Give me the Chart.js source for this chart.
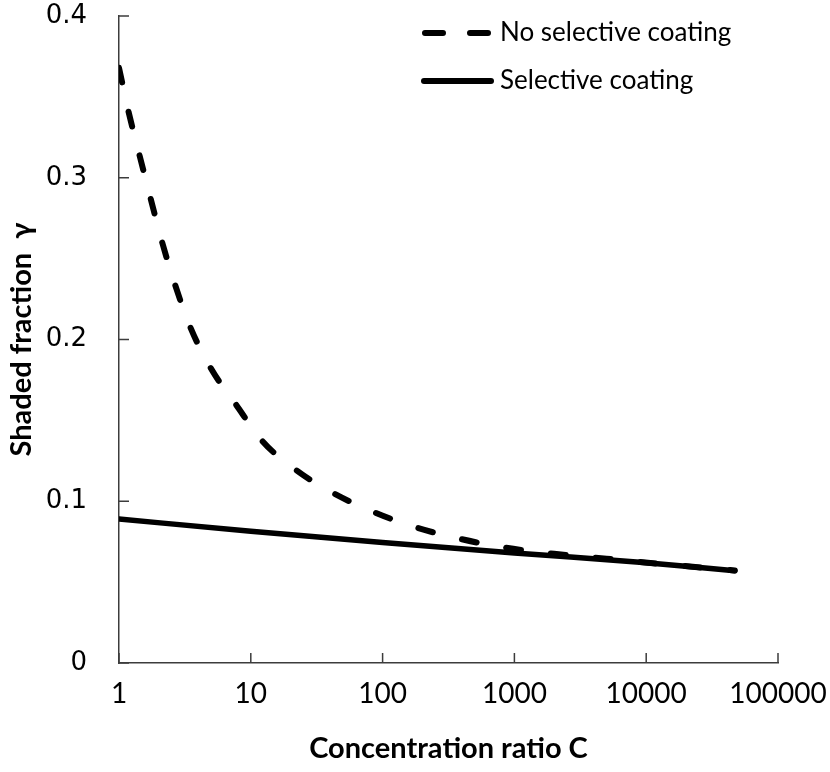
<!DOCTYPE html>
<html lang="en">
<head>
    <meta charset="UTF-8">
    <title>Shaded fraction vs concentration ratio</title>
    <script src="https://cdn.jsdelivr.net/npm/chart.js"></script>
    <style>
        html, body { margin: 0; padding: 0; background: #fff; }
        #wrap { width: 830px; height: 772px; }
    </style>
</head>
<body>
    <div id="wrap">
        <canvas id="shadeChart" width="830" height="772"></canvas>
    </div>

    <script>
        // values
        const concNoCoating = [1, 1.18, 1.43, 1.74, 2.11, 2.66, 3.46, 4.99, 7.68, 12.3, 22.3, 42.3, 87.5, 176, 375, 824, 2000, 5000, 12000, 47000];
        const gammaNoCoating = [0.368, 0.341, 0.314, 0.287, 0.261, 0.234, 0.208, 0.182, 0.160, 0.137, 0.119, 0.105, 0.093, 0.084, 0.077, 0.0715, 0.0675, 0.0645, 0.0615, 0.0572];
        const concCoating = [1, 10, 100, 1000, 10000, 47000];
        const gammaCoating = [0.089, 0.0815, 0.0745, 0.068, 0.062, 0.0571];

        const xTicks = [1, 10, 100, 1000, 10000, 100000];
        const xTickLabels = ['1', '10', '100', '1000', '10000', '100000'];
        const yTicks = [0, 0.1, 0.2, 0.3, 0.4];
        const yTickLabels = ['0', '0.1', '0.2', '0.3', '0.4'];

        const seriesNames = ['No selective coating', 'Selective coating'];

        function toPoints(xs, ys) {
            return xs.map(function (x, i) { return { x: x, y: ys[i] }; });
        }

        const axisColor = '#3c3c3c';
        const calibriLike = 'Lato, "Open Sans", sans-serif';

        // small tick marks pointing into the plot, like the original
        const innerTicks = {
            id: 'innerTicks',
            afterDraw: function (chart) {
                const ctx = chart.ctx;
                const xs = chart.scales.x;
                const ys = chart.scales.y;
                const area = chart.chartArea;
                ctx.save();
                ctx.strokeStyle = axisColor;
                ctx.lineWidth = 1.5;
                ctx.beginPath();
                xTicks.forEach(function (v) {
                    const px = xs.getPixelForValue(v);
                    ctx.moveTo(px, area.bottom);
                    ctx.lineTo(px, area.bottom - 10);
                });
                yTicks.forEach(function (v) {
                    const py = ys.getPixelForValue(v);
                    ctx.moveTo(area.left, py);
                    ctx.lineTo(area.left + 10, py);
                });
                ctx.stroke();
                ctx.restore();
            }
        };

        // legend drawn inside the plot, top right
        const insideLegend = {
            id: 'insideLegend',
            afterDraw: function (chart) {
                const ctx = chart.ctx;
                const rows = [33, 81];
                ctx.save();
                chart.data.datasets.forEach(function (ds, i) {
                    const y = rows[i];
                    const dashed = ds.borderDash && ds.borderDash.length;
                    ctx.strokeStyle = ds.borderColor;
                    ctx.lineWidth = 6;
                    ctx.lineCap = 'round';
                    ctx.beginPath();
                    if (dashed) {
                        ctx.moveTo(425, y); ctx.lineTo(443, y);
                        ctx.moveTo(470, y); ctx.lineTo(488, y);
                    } else {
                        ctx.moveTo(424, y); ctx.lineTo(491, y);
                    }
                    ctx.stroke();
                    ctx.fillStyle = '#000';
                    ctx.font = '26px ' + calibriLike;
                    ctx.textBaseline = 'middle';
                    ctx.textAlign = 'left';
                    ctx.fillText(ds.label, 500, y);
                });
                ctx.restore();
            }
        };

        const data = {
            datasets: [{
                label: seriesNames[0],
                data: toPoints(concNoCoating, gammaNoCoating),
                borderColor: '#000',
                borderWidth: 6,
                borderDash: [15, 30],
                borderCapStyle: 'round',
                pointRadius: 0,
                tension: 0.4,
                cubicInterpolationMode: 'monotone',
                fill: false
            }, {
                label: seriesNames[1],
                data: toPoints(concCoating, gammaCoating),
                borderColor: '#000',
                borderWidth: 5.5,
                borderCapStyle: 'round',
                pointRadius: 0,
                tension: 0.4,
                cubicInterpolationMode: 'monotone',
                fill: false
            }]
        };

        const config = {
            type: 'line',
            data: data,
            plugins: [innerTicks, insideLegend],
            options: {
                responsive: false,
                animation: false,
                layout: { padding: { top: 16, right: 52, bottom: 0, left: 0 } },
                plugins: {
                    legend: { display: false },
                    tooltip: { enabled: false }
                },
                scales: {
                    x: {
                        type: 'logarithmic',
                        min: 1,
                        max: 100000,
                        afterBuildTicks: function (scale) {
                            scale.ticks = xTicks.map(function (v) { return { value: v }; });
                        },
                        afterFit: function (scale) {
                            scale.height = 109;
                            scale.paddingLeft = 0;
                            scale.paddingRight = 0;
                        },
                        ticks: {
                            autoSkip: false,
                            maxRotation: 0,
                            padding: 14,
                            color: '#000',
                            font: { family: calibriLike, size: 28 },
                            callback: function (value) {
                                const i = xTicks.indexOf(value);
                                return i >= 0 ? xTickLabels[i] : '';
                            }
                        },
                        grid: { display: true, drawOnChartArea: false, drawTicks: false },
                        border: { display: true, color: axisColor, width: 1.5 },
                        title: {
                            display: true,
                            text: 'Concentration ratio C',
                            color: '#000',
                            font: { family: calibriLike, size: 29, weight: 'bold' },
                            padding: { top: 0, bottom: 6 }
                        }
                    },
                    y: {
                        type: 'linear',
                        min: 0,
                        max: 0.4,
                        afterBuildTicks: function (scale) {
                            scale.ticks = yTicks.map(function (v) { return { value: v }; });
                        },
                        afterFit: function (scale) {
                            scale.width = 119;
                            scale.paddingTop = 0;
                            scale.paddingBottom = 0;
                        },
                        ticks: {
                            padding: 32,
                            color: '#000',
                            font: { family: '"DejaVu Sans", sans-serif', size: 26 },
                            callback: function (value) {
                                const i = yTicks.findIndex(function (t) { return Math.abs(t - value) < 1e-9; });
                                return i >= 0 ? yTickLabels[i] : '';
                            }
                        },
                        grid: { display: true, drawOnChartArea: false, drawTicks: false },
                        border: { display: true, color: axisColor, width: 1.5 },
                        title: {
                            display: true,
                            text: 'Shaded fraction  \u03b3',
                            color: '#000',
                            font: { family: calibriLike, size: 29, weight: 'bold' },
                            padding: { top: 4, bottom: 0 }
                        }
                    }
                }
            }
        };

        document.addEventListener('DOMContentLoaded', function () {
            const ctx = document.getElementById('shadeChart').getContext('2d');
            new Chart(ctx, config);
        });
    </script>
</body>
</html>
